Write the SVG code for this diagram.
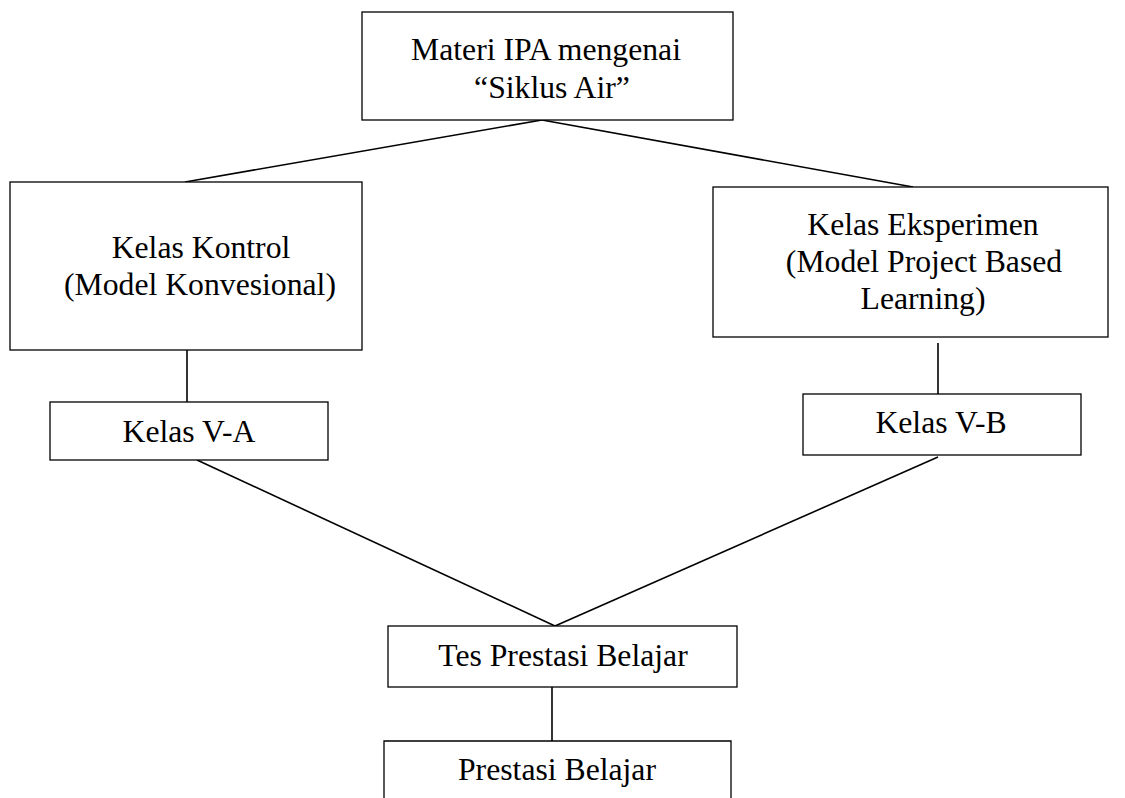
<svg xmlns="http://www.w3.org/2000/svg" width="1125" height="798" viewBox="0 0 1125 798">
<style>
.box{fill:#fff;stroke:#000;stroke-width:1.3}
.ln{stroke:#000;stroke-width:1.6;fill:none}
.t{font-family:"Liberation Serif","Times New Roman",serif;font-size:31.7px;fill:#000;text-anchor:middle}
</style>
<rect width="1125" height="798" fill="#fff"/>
<g id="connectors">
<line class="ln" x1="542" y1="120" x2="185" y2="182"/>
<line class="ln" x1="542" y1="120" x2="913" y2="187"/>
<line class="ln" x1="187" y1="350" x2="187" y2="402"/>
<line class="ln" x1="938" y1="343" x2="938" y2="394"/>
<line class="ln" x1="197" y1="460" x2="555" y2="626"/>
<line class="ln" x1="938" y1="457" x2="555" y2="626"/>
<line class="ln" x1="552" y1="687" x2="552" y2="741"/>
</g>
<g id="materi">
<rect class="box" x="362" y="12" width="371" height="108"/>
<text class="t" x="546" y="60">Materi IPA mengenai</text>
<text class="t" x="552" y="97.5">“Siklus Air”</text>
</g>
<g id="kontrol">
<rect class="box" x="10" y="182" width="352" height="168"/>
<text class="t" x="201" y="258">Kelas Kontrol</text>
<text class="t" x="200" y="295">(Model Konvesional)</text>
</g>
<g id="eksperimen">
<rect class="box" x="713" y="187" width="395" height="150"/>
<text class="t" x="923" y="235">Kelas Eksperimen</text>
<text class="t" x="924" y="272">(Model Project Based</text>
<text class="t" x="923" y="309">Learning)</text>
</g>
<g id="kelas-va">
<rect class="box" x="50" y="402" width="278" height="58"/>
<text class="t" x="189" y="442">Kelas V-A</text>
</g>
<g id="kelas-vb">
<rect class="box" x="803" y="394" width="278" height="61"/>
<text class="t" x="941" y="433">Kelas V-B</text>
</g>
<g id="tes">
<rect class="box" x="388" y="626" width="349" height="61"/>
<text class="t" x="563" y="665.5">Tes Prestasi Belajar</text>
</g>
<g id="prestasi">
<path class="box" d="M384,800 V741 H731 V800"/>
<text class="t" x="557" y="780">Prestasi Belajar</text>
</g>
</svg>
